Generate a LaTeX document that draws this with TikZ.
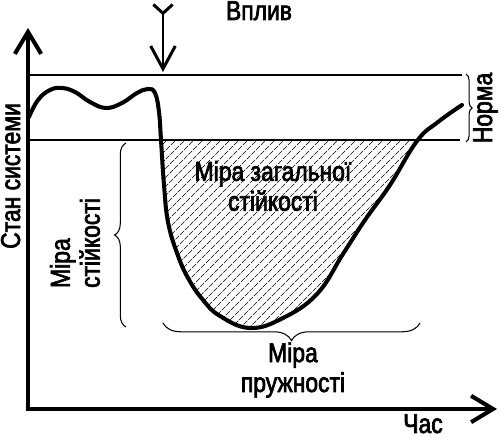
\documentclass[tikz,border=0pt]{standalone}
\usepackage{fontspec}
\setmainfont[FakeStretch=0.84,FakeBold=2.5]{Liberation Sans}
\usetikzlibrary{arrows.meta,decorations.pathreplacing}

\tikzset{
    axis/.style={line width=2.3pt,
        {Straight Barb[length=12.5pt,width=15pt]}-{Straight Barb[length=12.5pt,width=15pt]}},
    level/.style={line width=1.2pt},
    bracket/.style={decorate,decoration={brace,amplitude=#1},line width=0.6pt},
    hatch/.style={line width=0.4pt,dash pattern=on 3pt off 0.8pt},
    label/.style={font=\fontsize{15.5}{17}\selectfont}
}

\begin{document}
\begin{tikzpicture}[x=0.02cm,y=-0.02cm]
    \useasboundingbox (0,0) rectangle (500,438);
    % the state curve, kept for the hatching
    \path[save path=\dip] plot[smooth,tension=0.7] coordinates {(29,117) (38,100) (50,90) (62,88) (75,92) (90,102) (106,108) (122,103) (137,93) (148,89) (155,93) (159,112) (161,140) (164,185) (168,222) (177,253) (188,278) (203,300) (220,316) (250,328) (283,318) (317,294) (343,254) (365,220) (390,185) (417,141) (438,122) (462,105)};
    \begin{scope}
        \clip (0,140) rectangle (500,438);
        \clip[use path=\dip];
        \foreach \i in {-300,-291,...,500}
            \draw[hatch] (\i,400) -- ++(300,-300);
    \end{scope}
    % norm band
    \draw[level] (29,75) -- (462,75);
    \draw[level] (29,140) -- (460,140);
    \draw[line width=2.3pt,line cap=round,use path=\dip];
    % axes
    \draw[axis] (28,28) -- (28,409) -- (497,409);
    \node[label,rotate=90,anchor=base] (state) at (20,176) {Стан системи};
    \node[label,anchor=base,inner sep=0.5pt] (time) at (423,433) {Час};
    % impact
    \draw[line width=1.7pt,{Straight Barb[reversed,length=5pt,width=11pt]}-{Straight Barb[length=13pt,width=14pt]}] (163,3) -- (163,72);
    \node[label,anchor=base] (impact) at (259,20) {Вплив};
    % braces
    \draw[bracket=3.5pt] (466,74) -- (466,142);
    \node[label,rotate=90,anchor=base] (norm) at (492,108) {Норма};
    \draw[bracket=6.5pt] (126,327) -- (126,143);
    \node[label,rotate=90,align=left] (stab) at (75,243) {Міра\\стійкості};
    \draw[bracket=10pt] (420,323) -- (163,323);
    \node[label,align=center] (elast) at (293,370) {Міра\\пружності};
    \node[label,align=center] (total) at (273,186) {Міра загальної\\стійкості};
\end{tikzpicture}
\end{document}
